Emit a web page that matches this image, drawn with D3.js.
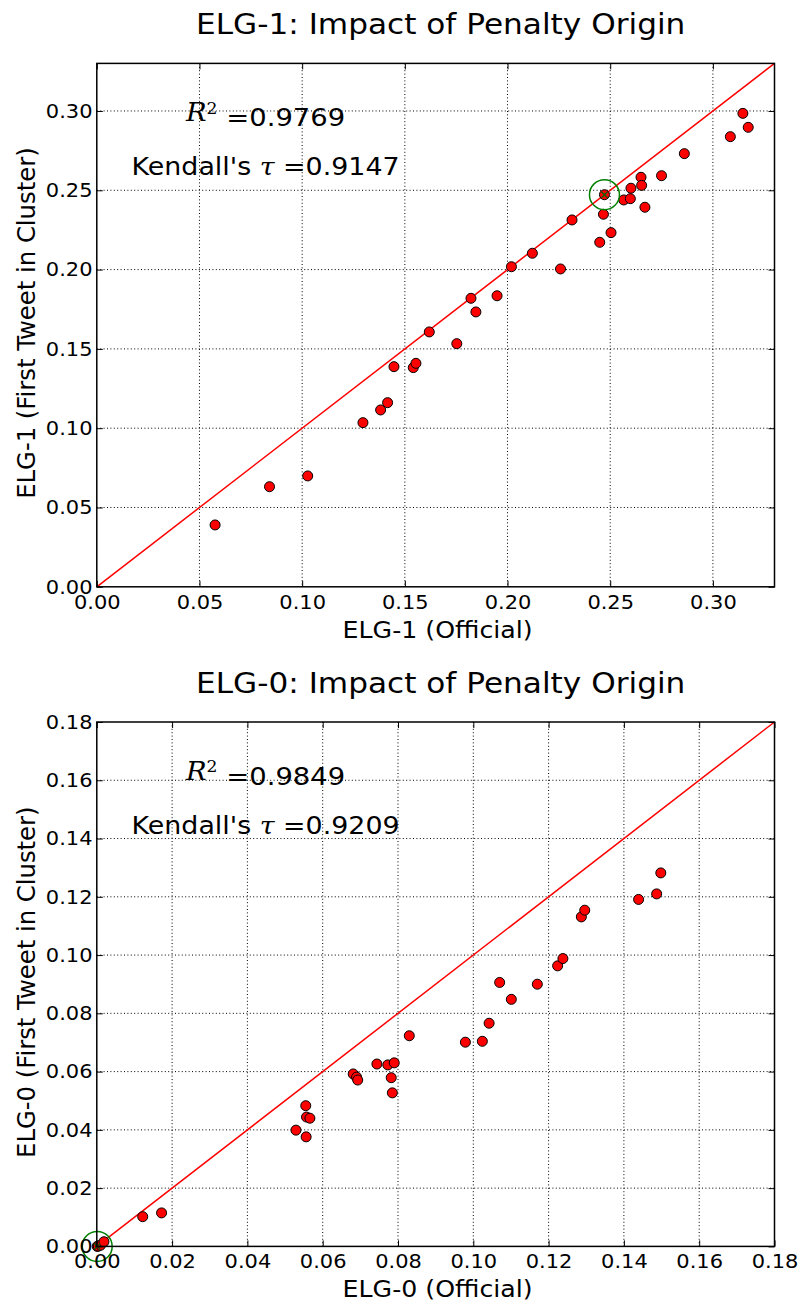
<!DOCTYPE html>
<html>
<head>
<meta charset="utf-8">
<script src="https://cdn.jsdelivr.net/npm/d3@7"></script>
<style>
  html, body { margin: 0; padding: 0; background: #fff; }
  svg { display: block; }
  text { font-family: "DejaVu Sans", sans-serif; fill: #000; }
</style>
</head>
<body>
<svg id="chart" width="803" height="1305"></svg>
<script>
// ELG-1 scores: official vs. first tweet in cluster
const elg1Official = [0.0576, 0.0841, 0.1027, 0.1296, 0.1382, 0.1416, 0.1447, 0.1541, 0.1554, 0.1619,
  0.1753, 0.1822, 0.1846, 0.1949, 0.2019, 0.2121, 0.2258, 0.2314, 0.2449, 0.2467,
  0.2472, 0.2504, 0.2566, 0.2598, 0.2601, 0.2650, 0.2653, 0.2669, 0.2750, 0.2861,
  0.3085, 0.3146, 0.3172];
const elg1FirstTweet = [0.0390, 0.0631, 0.0699, 0.1035, 0.1115, 0.1161, 0.1388, 0.1382, 0.1409, 0.1607,
  0.1533, 0.1819, 0.1733, 0.1835, 0.2018, 0.2103, 0.2004, 0.2313, 0.2172, 0.2349,
  0.2472, 0.2233, 0.2439, 0.2447, 0.2513, 0.2582, 0.2531, 0.2393, 0.2592, 0.2731,
  0.2838, 0.2985, 0.2897];
const elg1Highlight = 20;

// ELG-0 scores: official vs. first tweet in cluster
const elg0Official = [0.0001, 0.0004, 0.0010, 0.0019, 0.0122, 0.0172, 0.0529, 0.0555, 0.0557, 0.0566,
  0.0556, 0.0681, 0.0690, 0.0693, 0.0744, 0.0773, 0.0790, 0.0782, 0.0785, 0.0830,
  0.0979, 0.1024, 0.1042, 0.1070, 0.1101, 0.1170, 0.1224, 0.1238, 0.1287, 0.1296,
  0.1439, 0.1487, 0.1498];
const elg0FirstTweet = [0.0000, 0.0001, 0.0004, 0.0016, 0.0102, 0.0115, 0.0399, 0.0483, 0.0444, 0.0440,
  0.0376, 0.0592, 0.0581, 0.0571, 0.0626, 0.0623, 0.0630, 0.0579, 0.0527, 0.0723,
  0.0701, 0.0704, 0.0766, 0.0906, 0.0848, 0.0900, 0.0963, 0.0988, 0.1131, 0.1154,
  0.1191, 0.1210, 0.1282];
const elg0Highlight = 0;

// Tick values
const elg1Ticks = [0.00, 0.05, 0.10, 0.15, 0.20, 0.25, 0.30];
const elg0Ticks = [0.00, 0.02, 0.04, 0.06, 0.08, 0.10, 0.12, 0.14, 0.16, 0.18];

// Summary statistics
const elg1Stats = { r2: "0.9769", tau: "0.9147" };
const elg0Stats = { r2: "0.9849", tau: "0.9209" };

const svg = d3.select("#chart");
const fmt = d3.format(".2f");
const SX = 1.075; // horizontal text stretch

function panel(cfg) {
  const left = 96.8, right = 774.5;
  const top = cfg.top, bottom = cfg.bottom;
  const w = right - left, h = bottom - top;
  const x = d3.scaleLinear().domain([0, cfg.max]).range([0, w]);
  const y = d3.scaleLinear().domain([0, cfg.max]).range([h, 0]);

  const g = svg.append("g").attr("transform", `translate(${left},${top})`);

  // dotted grid
  const inner = cfg.ticks.filter(t => t > 0 && t < cfg.max - 1e-9);
  const grid = g.append("g").attr("class", "grid");
  grid.selectAll("line.vx").data(inner).enter()
    .append("line")
    .attr("x1", d => x(d)).attr("x2", d => x(d))
    .attr("y1", 0).attr("y2", h);
  grid.selectAll("line.hy").data(inner).enter()
    .append("line")
    .attr("y1", d => y(d)).attr("y2", d => y(d))
    .attr("x1", 0).attr("x2", w);
  grid.selectAll("line")
    .attr("stroke", "#000").attr("stroke-width", 1)
    .attr("stroke-dasharray", "1,2.4");

  // identity line
  g.append("line")
    .attr("x1", x(0)).attr("y1", y(0))
    .attr("x2", x(cfg.max)).attr("y2", y(cfg.max))
    .attr("stroke", "#ff0000").attr("stroke-width", 1.5);

  // scatter points
  const pts = cfg.xs.map((v, i) => ({ x: v, y: cfg.ys[i], i }));
  g.append("g").selectAll("circle").data(pts).enter()
    .append("circle")
    .attr("cx", d => x(d.x)).attr("cy", d => y(d.y))
    .attr("r", 5)
    .attr("fill", "#ff0000")
    .attr("stroke", "#000").attr("stroke-width", 1);

  // highlighted system
  const hp = pts[cfg.hl];
  const hx = x(hp.x), hy = y(hp.y);
  g.append("path")
    .attr("d", `M${hx - 3},${hy - 3}L${hx + 3},${hy + 3}M${hx - 3},${hy + 3}L${hx + 3},${hy - 3}`)
    .attr("stroke", "#006400").attr("stroke-width", 1.2);
  g.append("circle")
    .attr("cx", hx).attr("cy", hy).attr("r", 15)
    .attr("fill", "none").attr("stroke", "#008000").attr("stroke-width", 1.5);

  // axes with inward ticks
  const tickFont = 19.5;
  const xb = g.append("g").attr("transform", `translate(0,${h})`)
    .call(d3.axisBottom(x).tickValues(cfg.ticks).tickFormat(fmt).tickSize(-6).tickPadding(8));
  const xt = g.append("g")
    .call(d3.axisTop(x).tickValues(cfg.ticks).tickFormat("").tickSize(-6));
  const yl = g.append("g")
    .call(d3.axisLeft(y).tickValues(cfg.ticks).tickFormat(fmt).tickSize(-6).tickPadding(4));
  const yr = g.append("g").attr("transform", `translate(${w},0)`)
    .call(d3.axisRight(y).tickValues(cfg.ticks).tickFormat("").tickSize(-6));
  [xb, xt, yl, yr].forEach(a => {
    a.select(".domain").remove();
    a.selectAll(".tick line").attr("stroke", "#000").attr("stroke-width", 1);
    a.selectAll(".tick text")
      .style("font-family", "'DejaVu Sans', sans-serif")
      .style("font-size", tickFont + "px")
      .attr("fill", "#000");
  });
  xb.selectAll(".tick text").attr("transform", `scale(${SX},1)`);
  yl.selectAll(".tick text").attr("transform", `scale(${SX},1)`);

  // frame
  g.append("rect")
    .attr("x", 0).attr("y", 0).attr("width", w).attr("height", h)
    .attr("fill", "none").attr("stroke", "#000").attr("stroke-width", 1.5);

  // title
  g.append("text")
    .attr("transform", `translate(${w / 2 + 5},-29) scale(${SX},1)`)
    .attr("text-anchor", "middle")
    .style("font-size", "29px")
    .text(cfg.title);

  // axis labels
  g.append("text")
    .attr("transform", `translate(${w / 2 + 2},${h + 51}) scale(${SX},1)`)
    .attr("text-anchor", "middle")
    .style("font-size", "23.5px")
    .text(cfg.xlabel);
  g.append("text")
    .attr("transform", `translate(${35 - left},${h / 2 - 2}) rotate(-90)`)
    .attr("text-anchor", "middle")
    .style("font-size", "24.3px")
    .text(cfg.ylabel);

  // statistics annotations
  const ax = w * 0.249;
  const r2 = g.append("text")
    .attr("transform", `translate(${ax},${h * 0.111}) scale(${SX},1)`)
    .attr("text-anchor", "middle")
    .style("font-size", "25.5px");
  r2.append("tspan").style("font-family", "'DejaVu Serif', serif").style("font-style", "italic").text("R");
  r2.append("tspan").attr("dy", "-0.5em").style("font-size", "16px")
    .style("font-family", "'DejaVu Serif', serif").text("2");
  r2.append("tspan").attr("dy", "0.5em").text(" =" + cfg.stats.r2);

  const kt = g.append("text")
    .attr("transform", `translate(${ax},${h * 0.213}) scale(${SX},1)`)
    .attr("text-anchor", "middle")
    .style("font-size", "25px");
  kt.append("tspan").text("Kendall's ");
  kt.append("tspan").style("font-family", "'DejaVu Serif', serif").style("font-style", "italic").text("τ");
  kt.append("tspan").text(" =" + cfg.stats.tau);
}

panel({
  top: 63.4, bottom: 586.8, max: 0.33, ticks: elg1Ticks,
  xs: elg1Official, ys: elg1FirstTweet, hl: elg1Highlight,
  title: "ELG-1: Impact of Penalty Origin",
  xlabel: "ELG-1 (Official)", ylabel: "ELG-1 (First Tweet in Cluster)",
  stats: elg1Stats
});
panel({
  top: 722, bottom: 1246.4, max: 0.18, ticks: elg0Ticks,
  xs: elg0Official, ys: elg0FirstTweet, hl: elg0Highlight,
  title: "ELG-0: Impact of Penalty Origin",
  xlabel: "ELG-0 (Official)", ylabel: "ELG-0 (First Tweet in Cluster)",
  stats: elg0Stats
});
</script>
</body>
</html>
